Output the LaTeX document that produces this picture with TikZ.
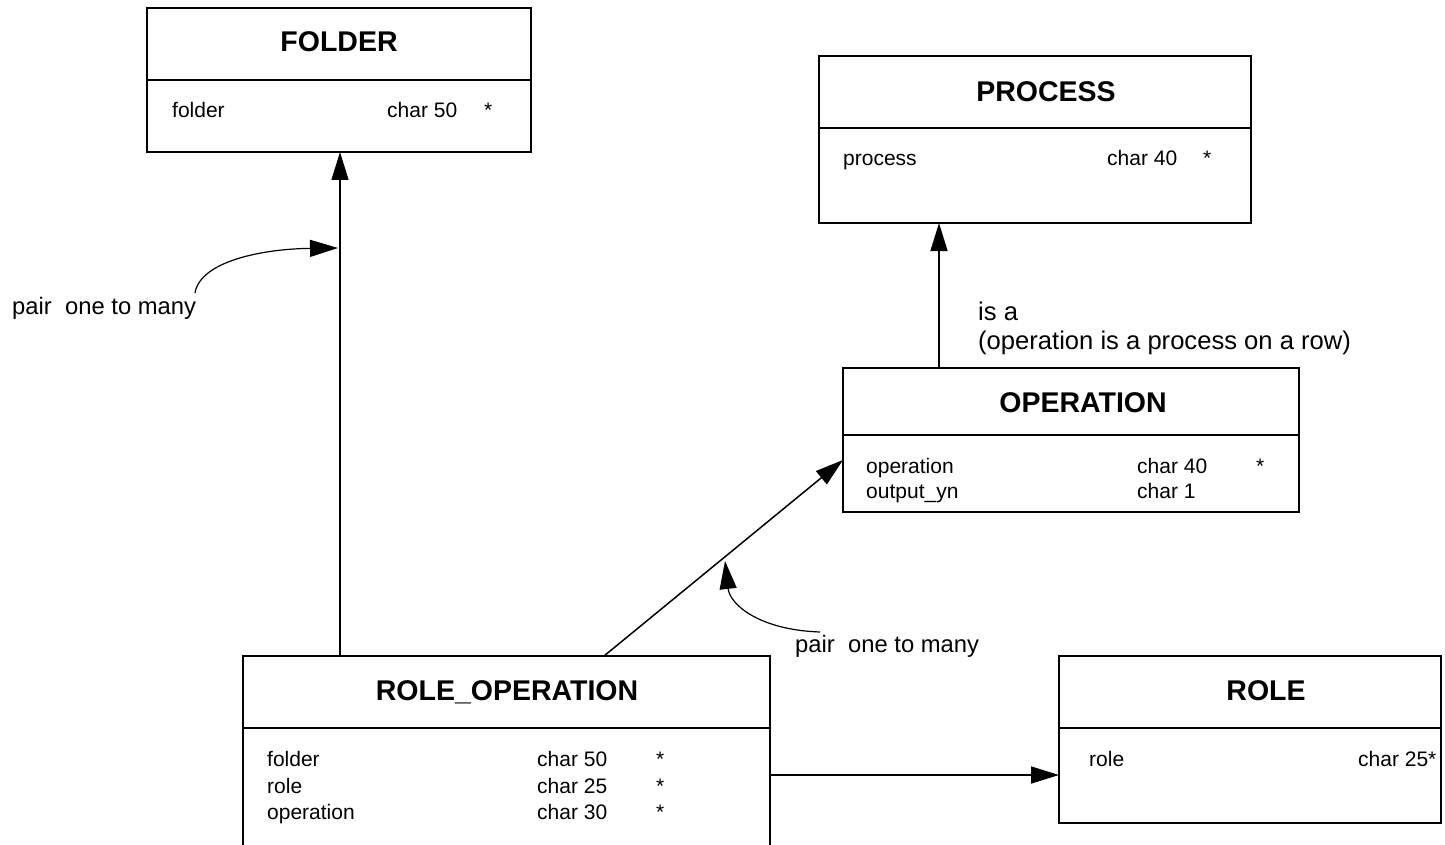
\documentclass[tikz,border=0pt]{standalone}
\usepackage{fontspec}
\setmainfont{Liberation Sans}
\usetikzlibrary{arrows.meta,calc}
\begin{document}
\begin{tikzpicture}[x=1pt,y=-1pt,
  box/.style={draw, line width=2pt, inner sep=0pt, outer sep=0pt, anchor=north west},
  divider/.style={line width=2pt},
  ttl/.style={font=\fontsize{28.5}{32}\selectfont\bfseries, anchor=base, inner sep=0pt},
  fld/.style={font=\fontsize{21}{25}\selectfont, anchor=base west, inner sep=0pt},
  lbl/.style={font=\fontsize{23.8}{29}\selectfont, anchor=base west, inner sep=0pt},
  lblb/.style={font=\fontsize{25.6}{30}\selectfont, anchor=base west, inner sep=0pt},
  conn/.style={line width=1.5pt, -{Triangle[length=28pt,width=17pt]}},
  note/.style={line width=1.2pt, -{Triangle[length=28pt,width=17pt]}}]
\useasboundingbox (0,0) rectangle (1445,845);
\clip (0,0) rectangle (1445,845);
% FOLDER
\node[box, minimum width=384pt, minimum height=144pt] (fo) at (147,8) {};
\draw[divider] (147,80) -- (531,80);
\node[ttl] (fot) at (339,52) {FOLDER};
\node[fld] (fo1) at (172,118) {folder};
\node[fld] (fo2) at (387,118) {char 50};
\node[fld] (fo3) at (484,118) {*};
% PROCESS
\node[box, minimum width=432pt, minimum height=167pt] (pr) at (819,56) {};
\draw[divider] (819,128) -- (1251,128);
\node[ttl] (prt) at (1046,102) {PROCESS};
\node[fld] (pr1) at (843,166) {process};
\node[fld] (pr2) at (1107,166) {char 40};
\node[fld] (pr3) at (1203,166) {*};
% OPERATION
\node[box, minimum width=456pt, minimum height=144pt] (op) at (843,368) {};
\draw[divider] (843,435) -- (1299,435);
\node[ttl] (opt) at (1083,412) {OPERATION};
\node[fld] (op1) at (866,473) {operation};
\node[fld] (op2) at (866,498) {output\_yn};
\node[fld] (op3) at (1137,473) {char 40};
\node[fld] (op4) at (1137,498) {char 1};
\node[fld] (op5) at (1256,473) {*};
% ROLE_OPERATION
\node[box, minimum width=527pt, minimum height=194pt] (ro) at (243,656) {};
\draw[divider] (243,728) -- (770,728);
\node[ttl] (rot) at (507,700) {ROLE\_OPERATION};
\node[fld] (ro1) at (267,766) {folder};
\node[fld] (ro2) at (267,793) {role};
\node[fld] (ro3) at (267,819) {operation};
\node[fld] (ro4) at (537,766) {char 50};
\node[fld] (ro5) at (537,793) {char 25};
\node[fld] (ro6) at (537,819) {char 30};
\node[fld] (ro7) at (656,766) {*};
\node[fld] (ro8) at (656,793) {*};
\node[fld] (ro9) at (656,819) {*};
% ROLE
\node[box, minimum width=382pt, minimum height=167pt] (rl) at (1059,656) {};
\draw[divider] (1059,728) -- (1441,728);
\node[ttl] (rlt) at (1266,700) {ROLE};
\node[fld] (rl1) at (1089,766) {role};
\node[fld] (rl2) at (1358,766) {char 25*};
% connectors
\draw[conn] (ro.north -| 340,0) -- (fo.south -| 340,0);
\draw[conn] (op.north -| 939,0) -- (pr.south -| 939,0);
\draw[conn] (ro.north -| 604,0) -- (op.west |- 0,460);
\draw[conn] (ro.east |- 0,775) -- (rl.west |- 0,775);
% labels
\node[lblb] (isa1) at (978,320) {is a};
\node[lblb] (isa2) at (978,349) {(operation is a process on a row)};
\node[lbl] (p1) at (12,314) {pair\ \ one to many};
\node[lbl] (p2) at (795,652) {pair\ \ one to many};
\coordinate (t1) at (338,248);
\coordinate (t2) at (725,561);
\draw[note] (195,293) .. controls (200,262) and (260,249) .. (t1);
\draw[note] (820,632) .. controls (760,630) and (730,605) .. (t2);
\end{tikzpicture}
\end{document}
